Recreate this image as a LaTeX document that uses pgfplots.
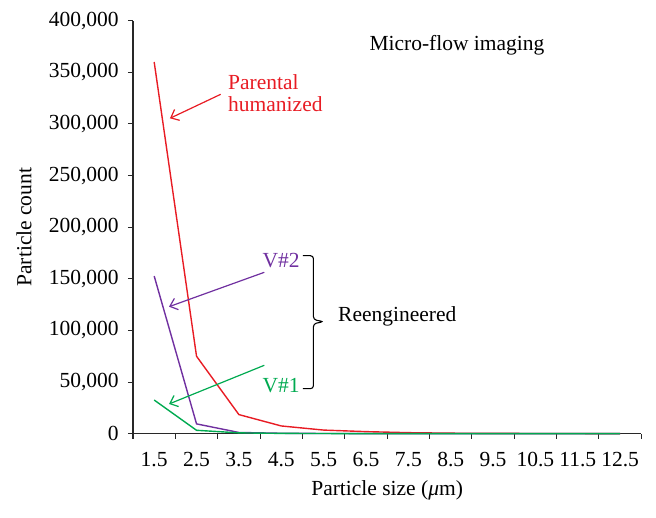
\documentclass[border=0pt]{standalone}
\usepackage{pgfplots}
\pgfplotsset{compat=1.18}
\usetikzlibrary{arrows.meta}
\usepackage{fontspec}
\setmainfont{Liberation Serif}
\definecolor{cred}{RGB}{232,28,36}
\definecolor{cpurple}{RGB}{112,48,160}
\definecolor{cgreen}{RGB}{0,170,80}
\definecolor{axgray}{RGB}{40,40,40}
\begin{document}
\fontsize{21.5}{25}\selectfont
\begin{tikzpicture}
\useasboundingbox (-133pt,-84.3pt) rectangle (523pt,433.7pt);
\begin{axis}[
  at={(0pt,0pt)}, anchor=south west,
  scale only axis, width=508.3pt, height=413pt,
  xmin=1, xmax=13, ymin=0, ymax=400000,
  axis x line=bottom, axis y line=left,
  axis line style={-, draw=axgray, line width=1.3pt},
  xtick={1.5,2.5,...,12.5},
  xticklabels={1.5,2.5,3.5,4.5,5.5,6.5,7.5,8.5,9.5,10.5,11.5,12.5},
  minor xtick={1,2,...,13},
  major x tick style={draw=none},
  minor x tick style={draw=axgray, line width=1.1pt},
  ytick={0,50000,...,400000},
  y tick style={draw=axgray, line width=1.1pt},
  tick align=outside, major tick length=5pt, minor tick length=5pt,
  scaled y ticks=false,
  yticklabel style={/pgf/number format/.cd, fixed, 1000 sep={,}, assume math mode=true, /tikz/xshift=-2pt},
  xticklabel style={/pgf/number format/assume math mode=true, yshift=-6pt},
  ticklabel style={font=\fontsize{21.5}{25}\selectfont},
  xlabel={Particle size (\textit{μ}m)},
  ylabel={Particle count},
  xlabel style={at={(axis description cs:0.5,-0.1363)}, anchor=center},
  ylabel style={at={(axis description cs:-0.2145,0.5)}, anchor=center},
  label style={font=\fontsize{21.5}{25}\selectfont},
  clip=false,
]
\addplot[cred, line width=1.4pt] coordinates {
(1.5,360000) (2.5,75000) (3.5,18500) (4.5,7500) (5.5,3500) (6.5,2000)
(7.5,1000) (8.5,500) (9.5,300) (10.5,200) (11.5,150) (12.5,100)};
\addplot[cpurple, line width=1.4pt] coordinates {
(1.5,152700) (2.5,9500) (3.5,1200) (4.5,400) (5.5,200) (6.5,100)
(7.5,80) (8.5,50) (9.5,30) (10.5,20) (11.5,10) (12.5,10)};
\addplot[cgreen, line width=1.4pt] coordinates {
(1.5,32600) (2.5,3300) (3.5,800) (4.5,300) (5.5,150) (6.5,100)
(7.5,50) (8.5,30) (9.5,20) (10.5,10) (11.5,10) (12.5,10)};
% annotations
\node[anchor=center] at (axis description cs:0.6374,0.9412) {Micro-flow imaging};
\node[anchor=west, align=left, inner sep=0pt, text=cred, font=\fontsize{21.5}{22}\selectfont] at (axis cs:3.243,330000) {Parental\\humanized};
\draw[cred, line width=1.2pt, -{Straight Barb[length=7pt,width=12pt]}] (axis cs:3.07,328700) -- (axis cs:1.873,305470);
\node[anchor=east, inner sep=0pt, text=cpurple] at (axis cs:4.94,167260) {V\#2};
\draw[cpurple, line width=1.2pt, -{Straight Barb[length=7pt,width=12pt]}] (axis cs:4.10,156300) -- (axis cs:1.85,123000);
\node[anchor=east, inner sep=0pt, text=cgreen] at (axis cs:4.94,46200) {V\#1};
\draw[cgreen, line width=1.2pt, -{Straight Barb[length=7pt,width=12pt]}] (axis cs:4.10,66250) -- (axis cs:1.85,28770);
\draw[black, line width=1.1pt, rounded corners=3pt]
  (axis cs:5.013,172400) -- (axis cs:5.260,172400) -- (axis cs:5.260,110500)
  -- (axis cs:5.50,108500) -- (axis cs:5.260,106500) -- (axis cs:5.260,43600) -- (axis cs:5.013,43600);
\node[anchor=west, inner sep=0pt] at (axis cs:5.84,114000) {Reengineered};
\end{axis}
\end{tikzpicture}
\end{document}
